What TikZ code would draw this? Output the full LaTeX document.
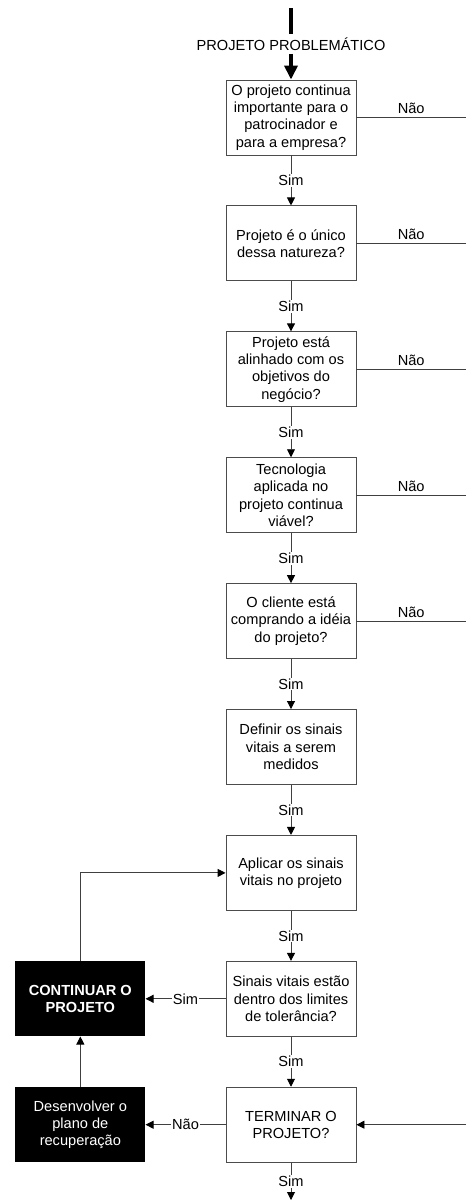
\documentclass[tikz,border=0pt]{standalone}
\usepackage{fontspec}
\setmainfont{Liberation Sans}
\usetikzlibrary{arrows.meta,positioning,calc}
\tikzset{
  qbox/.style={draw=black!70, line width=0.9pt, fill=white, minimum height=75pt, minimum width=130pt, inner sep=2pt, align=center},
  endbox/.style={fill=black, text=white, minimum height=75pt, minimum width=130pt, inner sep=2pt, align=center},
  line/.style={-{Triangle[width=8pt,length=8pt,black]}, draw=black!75, line width=0.9pt},
  plain/.style={draw=black!75, line width=0.9pt},
  sim/.style={fill=white, inner sep=1pt},
  nao/.style={above, inner sep=3pt}
}

\begin{document}
\begin{tikzpicture}[x=1pt, y=-1pt, node distance=50pt and 80pt,
  font=\fontsize{14.6pt}{17.3pt}\selectfont]
  \useasboundingbox (0,0) rectangle (466,1200);

  % question chain
  \node[qbox] (imp) at (291,117.5) {O projeto continua\\importante para o\\patrocinador e\\para a empresa?};
  \node[qbox, below=of imp] (unico) {Projeto é o único\\dessa natureza?};
  \node[qbox, below=of unico] (alinh) {Projeto está\\alinhado com os\\objetivos do\\negócio?};
  \node[qbox, below=of alinh] (tec) {Tecnologia\\aplicada no\\projeto continua\\viável?};
  \node[qbox, below=of tec] (cliente) {O cliente está\\comprando a idéia\\do projeto?};
  \node[qbox, below=of cliente] (definir) {Definir os sinais\\vitais a serem\\medidos};
  \node[qbox, below=of definir] (aplicar) {Aplicar os sinais\\vitais no projeto};
  \node[qbox, below=of aplicar] (sinais) {Sinais vitais estão\\dentro dos limites\\de tolerância?};
  \node[qbox, below=of sinais] (terminar) {TERMINAR O\\PROJETO?};
  \node[endbox, left=of sinais] (continuar) {\textbf{CONTINUAR O}\\\textbf{PROJETO}};
  \node[endbox, left=of terminar] (plano) {Desenvolver o\\plano de\\recuperação};

  % entry and edges of the page
  \coordinate (start) at (291,8);
  \node (titulo) at (291,44) {PROJETO PROBLEMÁTICO};
  \coordinate (edge) at (466,0);
  \coordinate (saida) at (291,1200);

  \draw[black, line width=4pt] (start) -- (titulo.north);
  \draw[black, line width=4pt, -{Triangle[width=13pt,length=14pt]}] (titulo.south) -- (imp.north);

  \draw[line] (imp) -- node[sim] {Sim} (unico);
  \draw[line] (unico) -- node[sim] {Sim} (alinh);
  \draw[line] (alinh) -- node[sim] {Sim} (tec);
  \draw[line] (tec) -- node[sim] {Sim} (cliente);
  \draw[line] (cliente) -- node[sim] {Sim} (definir);
  \draw[line] (definir) -- node[sim] {Sim} (aplicar);
  \draw[line] (aplicar) -- node[sim] {Sim} (sinais);
  \draw[line] (sinais) -- node[sim] {Sim} (terminar);
  \draw[line] (terminar) -- node[sim] {Sim} (saida);

  \draw[plain] (imp.east) -- node[nao] {Não} (imp.east -| edge);
  \draw[plain] (unico.east) -- node[nao] {Não} (unico.east -| edge);
  \draw[plain] (alinh.east) -- node[nao] {Não} (alinh.east -| edge);
  \draw[plain] (tec.east) -- node[nao] {Não} (tec.east -| edge);
  \draw[plain] (cliente.east) -- node[nao] {Não} (cliente.east -| edge);
  \draw[line] (terminar.east -| edge) -- (terminar.east);

  \draw[line] (sinais) -- node[sim] {Sim} (continuar);
  \draw[line] (terminar) -- node[sim] {Não} (plano);
  \draw[line] (plano) -- (continuar);
  \draw[line] (continuar.north) |- (aplicar.west);
\end{tikzpicture}
\end{document}
